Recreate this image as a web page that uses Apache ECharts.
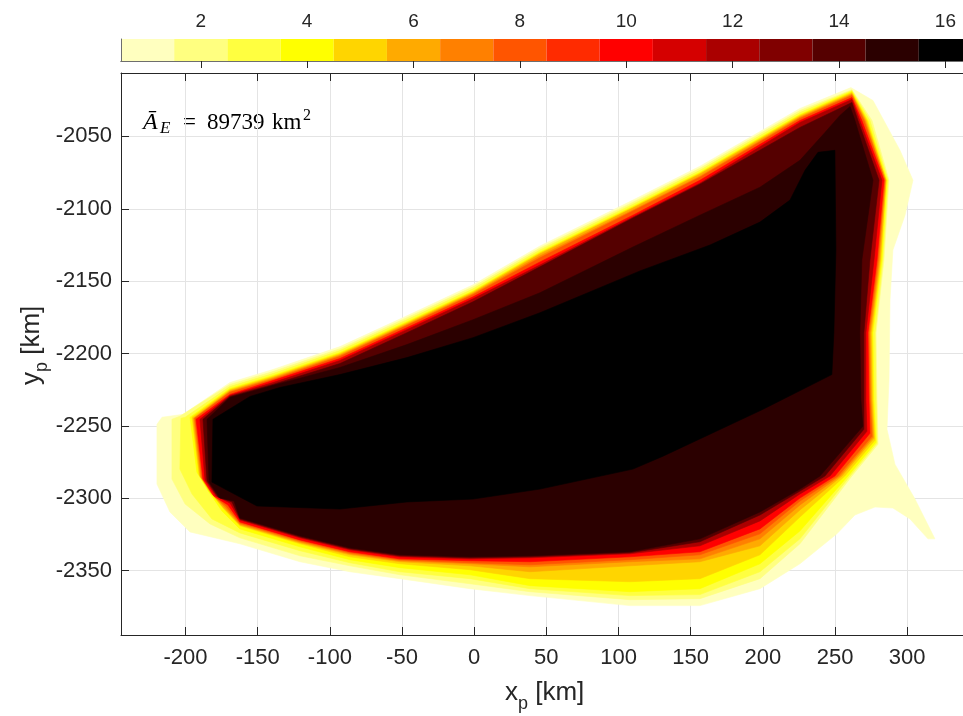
<!DOCTYPE html>
<html>
<head>
<meta charset="utf-8">
<title>Contour</title>
<script src="https://cdn.jsdelivr.net/npm/echarts@6/dist/echarts.min.js"></script>
<style>
  html, body { margin: 0; padding: 0; background: #fff; }
  #chart { width: 963px; height: 716px; }
</style>
</head>
<body>
<div id="chart"></div>
<script>
// colour levels of the colorbar
const levels = ['1', '2', '3', '4', '5', '6', '7', '8', '9', '10', '11', '12', '13', '14', '15', '16']
const levelColors = ['#FFFFBF', '#FFFF80', '#FFFF40', '#FFFF00', '#FFD500', '#FFAA00', '#FF8000', '#FF5500',
  '#FF2B00', '#FF0000', '#D50000', '#AA0000', '#800000', '#550000', '#2B0000', '#000000']
const meanArea = 89739

// filled contour outlines [x_p, y_p] in km, region where value >= level
const filledLevels = [1, 2, 3, 4, 5, 6, 7, 8, 10, 12, 14, 15, 16]
const ring01 = [[261.0,-2016.3],[276.3,-2025.2],[295.0,-2059.6],[304.0,-2080.3],[298.5,-2104.4],[290.1,-2128.4],[288.1,-2162.9],[287.4,-2217.9],[286.0,-2252.3],[291.5,-2276.4],[305.4,-2300.5],[319.2,-2328.0],[314.4,-2328.0],[301.9,-2314.2],[290.1,-2306.7],[277.7,-2306.0],[263.8,-2311.5],[251.3,-2324.5],[225.7,-2345.2],[198.0,-2362.4],[156.4,-2374.1],[107.9,-2374.1],[38.7,-2367.2],[-2.9,-2362.4],[-51.4,-2355.5],[-86.1,-2350.7],[-120.7,-2343.8],[-162.3,-2331.4],[-196.9,-2323.2],[-210.8,-2309.4],[-219.8,-2290.1],[-219.8,-2248.9],[-216.3,-2244.0],[-201.7,-2242.0],[-169.2,-2220.0],[-139.4,-2211.0],[-93.0,-2195.2],[-46.6,-2173.9],[-0.8,-2152.5],[45.6,-2125.7],[110.0,-2094.0],[156.4,-2070.6],[225.7,-2030.7]]
const ring02 = [[261.7,-2017.7],[275.6,-2039.0],[287.4,-2080.3],[283.9,-2135.3],[278.4,-2185.6],[279.1,-2231.7],[279.8,-2262.6],[261.7,-2284.6],[225.7,-2331.4],[198.0,-2355.5],[156.4,-2369.3],[107.9,-2370.0],[38.7,-2364.5],[-2.9,-2359.0],[-51.4,-2352.8],[-86.1,-2346.6],[-120.7,-2339.7],[-162.3,-2327.3],[-183.0,-2317.7],[-200.3,-2303.9],[-209.4,-2286.7],[-209.4,-2245.4],[-203.9,-2243.3],[-169.2,-2221.3],[-139.4,-2212.4],[-93.0,-2196.6],[-46.6,-2175.2],[-0.8,-2153.9],[45.6,-2127.1],[110.0,-2095.4],[156.4,-2072.0],[225.7,-2032.1]]
const ring03 = [[261.7,-2018.3],[274.2,-2039.0],[286.7,-2080.3],[283.2,-2135.3],[277.7,-2185.6],[278.4,-2231.7],[279.1,-2261.9],[260.4,-2284.6],[225.7,-2328.0],[198.0,-2350.7],[156.4,-2366.5],[107.9,-2367.2],[38.7,-2362.4],[-2.9,-2355.5],[-51.4,-2350.7],[-86.1,-2344.5],[-120.7,-2336.2],[-162.3,-2323.9],[-181.7,-2314.2],[-195.5,-2297.0],[-203.9,-2279.8],[-203.2,-2244.7],[-200.3,-2244.0],[-169.2,-2222.7],[-139.4,-2213.8],[-93.0,-2197.9],[-46.6,-2176.6],[-0.8,-2155.3],[45.6,-2128.4],[110.0,-2096.8],[156.4,-2073.4],[225.7,-2033.5]]
const ring04 = [[261.7,-2019.0],[272.8,-2039.0],[286.0,-2080.3],[282.5,-2135.3],[276.3,-2185.6],[277.0,-2231.7],[278.4,-2261.2],[259.0,-2284.6],[225.7,-2322.5],[198.0,-2345.2],[156.4,-2362.4],[107.9,-2364.5],[38.7,-2360.3],[-2.9,-2352.8],[-51.4,-2347.9],[-86.1,-2342.4],[-120.7,-2333.5],[-162.3,-2321.1],[-174.8,-2308.7],[-185.1,-2293.6],[-192.1,-2281.9],[-196.9,-2244.0],[-169.2,-2224.1],[-139.4,-2215.1],[-93.0,-2199.3],[-46.6,-2178.0],[-0.8,-2156.7],[45.6,-2129.8],[110.0,-2098.2],[156.4,-2074.8],[225.7,-2034.9]]
const ring05 = [[261.7,-2019.7],[272.1,-2039.0],[285.3,-2080.3],[281.8,-2135.3],[275.6,-2185.6],[276.3,-2231.7],[277.7,-2259.9],[256.8,-2284.6],[225.7,-2312.9],[198.0,-2339.0],[156.4,-2355.5],[107.9,-2357.6],[38.7,-2355.5],[-2.9,-2349.3],[-51.4,-2345.2],[-86.1,-2340.4],[-120.7,-2331.4],[-162.3,-2319.0],[-173.4,-2307.4],[-183.7,-2295.0],[-190.7,-2283.3],[-195.5,-2244.0],[-169.2,-2224.8],[-139.4,-2215.8],[-93.0,-2200.0],[-46.6,-2178.7],[-0.8,-2157.3],[45.6,-2130.5],[110.0,-2098.9],[156.4,-2075.5],[225.7,-2035.5]]
const ring06 = [[261.7,-2020.4],[271.4,-2039.0],[285.3,-2080.3],[281.2,-2135.3],[274.9,-2185.6],[275.6,-2231.7],[277.0,-2258.5],[254.8,-2284.6],[225.7,-2308.0],[198.0,-2332.8],[156.4,-2343.8],[107.9,-2346.6],[38.7,-2350.7],[-2.9,-2346.6],[-51.4,-2343.8],[-86.1,-2339.0],[-120.7,-2330.7],[-162.3,-2318.4],[-173.4,-2306.7],[-182.3,-2296.3],[-190.0,-2284.6],[-194.8,-2244.7],[-169.2,-2225.5],[-139.4,-2216.5],[-93.0,-2200.7],[-46.6,-2179.4],[-0.8,-2158.0],[45.6,-2131.2],[110.0,-2099.5],[156.4,-2076.1],[225.7,-2036.2]]
const ring07 = [[261.7,-2021.1],[270.7,-2039.0],[284.6,-2080.3],[280.5,-2135.3],[274.2,-2185.6],[274.9,-2231.7],[276.3,-2257.8],[253.4,-2284.6],[225.7,-2304.6],[198.0,-2328.0],[156.4,-2341.8],[107.9,-2343.8],[38.7,-2347.3],[-2.9,-2345.2],[-51.4,-2343.1],[-86.1,-2338.3],[-120.7,-2330.0],[-162.3,-2317.7],[-172.7,-2306.0],[-181.7,-2297.0],[-189.3,-2285.3],[-194.1,-2244.7],[-169.2,-2226.2],[-139.4,-2217.2],[-93.0,-2201.4],[-46.6,-2180.1],[-0.8,-2158.7],[45.6,-2132.6],[110.0,-2100.9],[156.4,-2077.5],[225.7,-2036.9]]
const ring08 = [[261.7,-2021.8],[270.0,-2039.0],[284.6,-2080.3],[279.8,-2135.3],[273.5,-2185.6],[274.2,-2231.7],[275.6,-2257.1],[252.0,-2284.6],[225.7,-2301.9],[198.0,-2324.5],[156.4,-2339.0],[107.9,-2342.4],[38.7,-2345.9],[-2.9,-2344.5],[-51.4,-2342.4],[-86.1,-2337.6],[-120.7,-2329.3],[-162.3,-2317.0],[-171.9,-2305.3],[-181.0,-2297.7],[-188.6,-2286.0],[-193.5,-2244.7],[-169.2,-2226.8],[-139.4,-2217.9],[-93.0,-2202.1],[-46.6,-2180.7],[-0.8,-2159.4],[45.6,-2133.9],[110.0,-2101.6],[156.4,-2078.2],[225.7,-2037.6]]
const ring10 = [[261.7,-2023.2],[268.6,-2039.0],[283.9,-2080.3],[279.1,-2135.3],[272.8,-2185.6],[273.5,-2231.7],[274.2,-2255.1],[249.9,-2284.6],[225.7,-2299.8],[198.0,-2321.1],[156.4,-2336.9],[107.9,-2340.4],[38.7,-2343.8],[-2.9,-2343.1],[-51.4,-2341.8],[-86.1,-2336.9],[-120.7,-2328.7],[-162.3,-2316.3],[-170.6,-2304.6],[-180.3,-2298.4],[-187.9,-2286.7],[-192.7,-2245.4],[-169.2,-2228.2],[-139.4,-2218.6],[-93.0,-2203.4],[-46.6,-2182.1],[-0.8,-2160.8],[45.6,-2136.7],[110.0,-2104.4],[156.4,-2080.3],[225.7,-2039.0]]
const ring12 = [[261.7,-2024.5],[267.2,-2039.0],[282.5,-2080.3],[277.0,-2135.3],[271.4,-2185.6],[271.4,-2231.7],[272.1,-2253.7],[246.5,-2284.6],[225.7,-2297.0],[198.0,-2315.6],[156.4,-2332.8],[107.9,-2338.3],[38.7,-2341.1],[-2.9,-2341.8],[-51.4,-2340.4],[-86.1,-2335.6],[-120.7,-2327.3],[-162.3,-2314.9],[-169.2,-2303.2],[-178.9,-2298.4],[-186.5,-2287.4],[-190.0,-2245.4],[-169.2,-2228.9],[-139.4,-2220.0],[-93.0,-2204.8],[-46.6,-2183.5],[-0.8,-2162.2],[45.6,-2138.8],[110.0,-2105.7],[156.4,-2082.3],[225.7,-2040.4]]
const ring14 = [[261.7,-2026.6],[265.9,-2039.0],[280.5,-2080.3],[274.2,-2135.3],[270.0,-2185.6],[270.0,-2231.7],[270.0,-2252.3],[243.0,-2284.6],[225.7,-2295.0],[198.0,-2311.5],[156.4,-2330.0],[107.9,-2337.6],[38.7,-2340.4],[-2.9,-2341.1],[-51.4,-2339.7],[-86.1,-2334.9],[-120.7,-2326.6],[-162.3,-2314.2],[-167.8,-2302.5],[-177.5,-2299.1],[-185.1,-2288.1],[-187.9,-2245.4],[-169.2,-2229.6],[-139.4,-2221.3],[-93.0,-2206.9],[-46.6,-2185.6],[-0.8,-2164.2],[45.6,-2140.1],[110.0,-2106.4],[156.4,-2083.0],[225.7,-2043.8]]
const ring15 = [[260.4,-2029.4],[263.8,-2039.0],[276.3,-2080.3],[268.6,-2135.3],[267.2,-2185.6],[267.9,-2231.7],[269.3,-2250.2],[239.6,-2284.6],[225.7,-2293.6],[198.0,-2309.4],[156.4,-2328.0],[107.9,-2336.9],[38.7,-2339.7],[-2.9,-2340.4],[-51.4,-2339.0],[-86.1,-2334.2],[-120.7,-2325.9],[-162.3,-2313.5],[-166.4,-2301.8],[-176.2,-2299.8],[-183.7,-2288.8],[-185.1,-2245.4],[-169.2,-2230.3],[-139.4,-2222.0],[-93.0,-2209.6],[-46.6,-2193.8],[-0.8,-2176.6],[45.6,-2158.0],[110.0,-2126.4],[156.4,-2104.4],[198.0,-2085.1],[225.7,-2066.5],[243.0,-2047.3],[253.4,-2035.5]]
const ring16 = [[249.9,-2059.6],[250.6,-2128.4],[249.2,-2185.6],[247.8,-2214.5],[200.1,-2238.5],[130.8,-2270.9],[110.0,-2279.8],[45.6,-2293.6],[-0.8,-2300.5],[-46.6,-2302.5],[-93.0,-2307.4],[-150.5,-2305.3],[-162.3,-2299.1],[-172.7,-2293.6],[-181.7,-2288.8],[-181.0,-2245.4],[-155.3,-2229.6],[-134.6,-2223.4],[-93.0,-2214.5],[-46.6,-2202.8],[-0.8,-2189.0],[45.6,-2171.8],[114.9,-2142.9],[163.4,-2125.0],[198.0,-2109.2],[218.8,-2094.0],[229.2,-2073.4],[238.2,-2061.0]]
const rings = [ring01, ring02, ring03, ring04, ring05, ring06, ring07, ring08, ring10, ring12, ring14, ring15, ring16]

const axisColor = '#262626'
const gridColor = '#e4e4e4'
const sansFont = 'Liberation Sans, Arial, Helvetica, sans-serif'
const serifFont = 'Liberation Serif, Times New Roman, serif'

const chart = echarts.init(document.getElementById('chart'))

function renderContour(params, api) {
  const lvl = filledLevels[params.dataIndex]
  const ring = rings[params.dataIndex]
  const color = levelColors[lvl - 1]
  return {
    type: 'polygon',
    shape: { points: ring.map(p => api.coord(p)) },
    style: { fill: color, stroke: color, lineWidth: 0.6 }
  }
}

// small helper for the math-like labels
function txt(text, x, y, size, opts) {
  return {
    type: 'text',
    x: x,
    y: y,
    style: Object.assign({
      text: text,
      font: size + 'px ' + sansFont,
      fill: axisColor,
      align: 'left',
      verticalAlign: 'middle'
    }, opts || {})
  }
}

const mainTick = { show: true, inside: true, length: 8, lineStyle: { color: axisColor, width: 1 } }
const plainNumber = (v) => String(v)

chart.setOption({
  animation: false,
  grid: [
    { left: 121, top: 73, width: 851, height: 562, outerBoundsMode: 'none' },
    { left: 121, top: 39, width: 851, height: 22, outerBoundsMode: 'none' }
  ],
  xAxis: [
    {
      type: 'value', gridIndex: 0, position: 'bottom',
      min: -244.7, max: 344.9, splitNumber: 12,
      axisLine: { show: true, onZero: false, lineStyle: { color: axisColor, width: 1 } },
      axisTick: mainTick,
      axisLabel: { color: axisColor, fontSize: 22, fontFamily: sansFont, margin: 12, showMinLabel: false, showMaxLabel: false, formatter: plainNumber },
      splitLine: { show: true, lineStyle: { color: gridColor, width: 1 } }
    },
    {
      type: 'value', gridIndex: 0, position: 'top',
      min: -244.7, max: 344.9, splitNumber: 12,
      axisLine: { show: true, onZero: false, lineStyle: { color: axisColor, width: 1 } },
      axisTick: mainTick,
      axisLabel: { show: false },
      splitLine: { show: false }
    },
    {
      type: 'category', gridIndex: 1, position: 'top', data: levels, boundaryGap: true, z: 10,
      axisLine: { show: true, lineStyle: { color: '#6e6e6e', width: 1 } },
      axisTick: { show: true, inside: true, length: 7, alignWithLabel: true, interval: (i) => i % 2 === 1, lineStyle: { color: axisColor } },
      axisLabel: { color: axisColor, fontSize: 19, fontFamily: sansFont, margin: 8, interval: (i) => i % 2 === 1 },
      splitLine: { show: false }
    },
    {
      type: 'category', gridIndex: 1, position: 'bottom', data: levels, z: 10,
      axisLine: { show: true, lineStyle: { color: '#6e6e6e', width: 1 } },
      axisTick: { show: false }, axisLabel: { show: false }, splitLine: { show: false }
    }
  ],
  yAxis: [
    {
      type: 'value', gridIndex: 0,
      min: -2394.4, max: -2006.2, splitNumber: 8,
      axisLine: { show: true, onZero: false, lineStyle: { color: axisColor, width: 1 } },
      axisTick: mainTick,
      axisLabel: { color: axisColor, fontSize: 22, fontFamily: sansFont, margin: 9, showMinLabel: false, showMaxLabel: false, formatter: plainNumber },
      splitLine: { show: true, lineStyle: { color: gridColor, width: 1 } }
    },
    {
      type: 'value', gridIndex: 1, min: 0, max: 1, z: 10,
      axisLine: { show: true, lineStyle: { color: '#6e6e6e', width: 1 } },
      axisTick: { show: false }, axisLabel: { show: false }, splitLine: { show: false }
    }
  ],
  series: [
    {
      type: 'custom',
      xAxisIndex: 0, yAxisIndex: 0,
      data: filledLevels.map(l => [l]),
      renderItem: renderContour,
      clip: true,
      silent: true
    },
    {
      type: 'bar',
      xAxisIndex: 2, yAxisIndex: 1,
      barCategoryGap: 0, barGap: 0,
      silent: true,
      data: levels.map((l, i) => ({ value: 1, itemStyle: { color: levelColors[i] } }))
    }
  ],
  graphic: [
    // x axis title
    {
      type: 'group', x: 0, y: 0, silent: true,
      children: [
        txt('x', 505, 693, 26),
        txt('p', 518, 704, 18),
        txt(' [km]', 528, 693, 26)
      ]
    },
    // y axis title, reads bottom to top
    {
      type: 'group', x: 32, y: 345, rotation: Math.PI / 2, silent: true,
      children: [
        txt('y', -40, 0, 26),
        txt('p', -27, 9.6, 18),
        txt(' [km]', -17, 0, 26)
      ]
    },
    // mean area annotation
    {
      type: 'group', x: 0, y: 0, silent: true,
      children: [
        txt('\u0100', 143, 122.8, 24, { font: 'italic 24px ' + serifFont, fill: '#000' }),
        txt('E', 160, 129, 17, { font: 'italic 17px ' + serifFont, fill: '#000' }),
        txt('=', 183, 122.8, 23, { font: '23px ' + serifFont, fill: '#000' }),
        txt(String(meanArea), 207, 122.8, 23, { font: '23px ' + serifFont, fill: '#000' }),
        txt('km', 272, 122.8, 23, { font: '23px ' + serifFont, fill: '#000' }),
        txt('2', 303, 116, 16, { font: '16px ' + serifFont, fill: '#000' })
      ]
    }
  ]
})
</script>
</body>
</html>
